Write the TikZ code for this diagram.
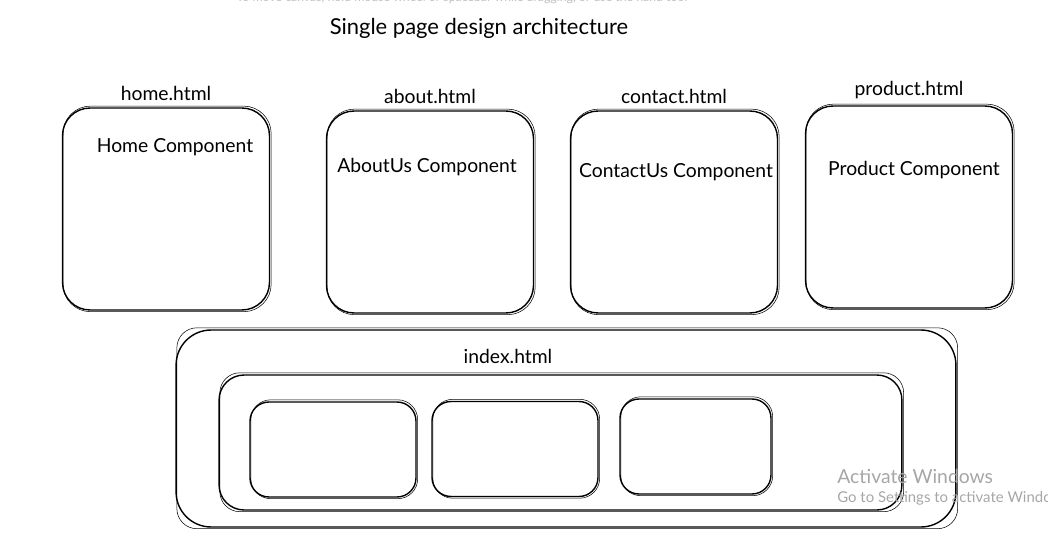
\documentclass[tikz,border=0pt]{standalone}
\usepackage{fontspec}
\setmainfont{Lato}
\usetikzlibrary{positioning}
\begin{document}
\begin{tikzpicture}[x=.02cm,y=-.02cm,font=\fontsize{11}{13}\selectfont,line join=round,line cap=round,
	page/.style={draw,line width=.8pt,rounded corners=.55cm,minimum width=4.14cm,minimum height=4.04cm},
	slot/.style={draw,line width=.8pt,rounded corners=.38cm,minimum height=1.9cm},
	wm/.style={text=black!35,inner sep=0pt,anchor=west}]
	\useasboundingbox (0,0) rectangle (1048,537);
	\node[text=black!25,font=\fontsize{7}{8}\selectfont] (hint) at (462,-2) {To move canvas, hold mouse wheel or spacebar while dragging, or use the hand tool};
	\node[font=\fontsize{12.5}{15}\selectfont] (title) at (479,28) {Single page design architecture};
	% pages
	\foreach \n/\x/\y/\f/\t/\tx/\ty in {home/166/209/home.html/Home Component/175/147,
		about/430/212/about.html/AboutUs Component/427/167,
		contact/674/212/contact.html/ContactUs Component/676/172,
		product/909/207/product.html/Product Component/914/170}{
		\node[page] (\n) at (\x,\y) {};
		\draw[line width=.3pt,rounded corners=.55cm] ([shift={(1.2,1)}]\n.south west) rectangle ([shift={(1,-1.2)}]\n.north east);
		\node[above=0pt of \n.north] (\n-file) {\f};
		\node (\n-comp) at (\tx,\ty) {\t};
	}
	% index.html
	\node[draw,line width=.8pt,rounded corners=.7cm,minimum width=15.6cm,minimum height=3.94cm] (index) at (566,428.5) {};
	\node (index-file) at (508,356) {index.html};
	\node[draw,line width=.8pt,rounded corners=.5cm,minimum width=13.66cm,minimum height=2.7cm] (shell) at (560.5,442.5) {};
	\node[slot,minimum width=3.32cm] (s1) at (333,449.5) {};
	\node[slot,minimum width=3.32cm] (s2) at (515,449) {};
	\node[slot,minimum width=3.02cm] (s3) at (695.5,446.5) {};
	\foreach \b in {index,shell,s1,s2,s3}
		\draw[line width=.3pt,rounded corners=.4cm] ([shift={(1.5,1)}]\b.south west) rectangle ([shift={(1,-1.5)}]\b.north east);
	\node[wm,font=\fontsize{11}{13}\selectfont] (act) at (837,476) {Activate Windows};
	\node[wm,font=\fontsize{8.5}{10}\selectfont] (go) at (837,498) {Go to Settings to activate Windows.};
\end{tikzpicture}
\end{document}
